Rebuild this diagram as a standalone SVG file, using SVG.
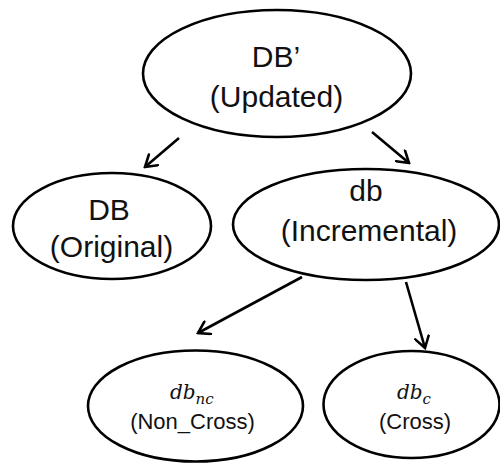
<svg xmlns="http://www.w3.org/2000/svg" width="500" height="463" viewBox="0 0 500 463">
<defs>
<marker id="arr" markerUnits="userSpaceOnUse" markerWidth="16" markerHeight="16" viewBox="-14 -8 16 16" refX="0" refY="0" orient="auto">
<path d="M-11,-7 L0,0 L-11,7" fill="none" stroke="#000" stroke-width="2.6" stroke-linecap="round" stroke-linejoin="miter"/>
</marker>
<style>
.node ellipse{fill:#fff;stroke:#000;stroke-width:2.6}
.lbl{font-family:"Liberation Sans",Arial,sans-serif;font-size:30px;fill:#111;text-anchor:middle}
.sm{font-family:"Liberation Sans",Arial,sans-serif;font-size:22px;fill:#111;text-anchor:middle}
.math{font-family:"DejaVu Serif","Liberation Serif",serif;font-style:italic;font-size:20px;fill:#111}
.edge{stroke:#000;stroke-width:2.6;fill:none;marker-end:url(#arr)}
</style>
</defs>
<rect width="500" height="463" fill="#fff"/>
<g id="connectors">
<line class="edge" x1="179" y1="138" x2="145" y2="167"/>
<line class="edge" x1="372" y1="132" x2="409" y2="163"/>
<line class="edge" x1="302" y1="277" x2="198" y2="333"/>
<line class="edge" x1="406" y1="282" x2="425" y2="348"/>
</g>
<g id="node-updated" class="node">
<ellipse cx="277" cy="73.5" rx="134" ry="63.5"/>
<text class="lbl" x="276" y="67">DB’</text>
<text class="lbl" x="276.5" y="107">(Updated)</text>
</g>
<g id="node-original" class="node">
<ellipse cx="112" cy="226" rx="99" ry="53"/>
<text class="lbl" x="109" y="220">DB</text>
<text class="lbl" x="111.5" y="257">(Original)</text>
</g>
<g id="node-incremental" class="node">
<ellipse cx="366" cy="224.5" rx="133" ry="55.5"/>
<text class="lbl" x="366" y="201">db</text>
<text class="lbl" x="369" y="241">(Incremental)</text>
</g>
<g id="node-noncross" class="node">
<ellipse cx="195.5" cy="406" rx="107.5" ry="55.5"/>
<text class="math" x="170" y="399">db<tspan font-size="15" dy="5">nc</tspan></text>
<text class="sm" x="192.5" y="429">(Non_Cross)</text>
</g>
<g id="node-cross" class="node">
<ellipse cx="411.5" cy="404.5" rx="88" ry="53.5"/>
<text class="math" x="397" y="399">db<tspan font-size="15" dy="5">c</tspan></text>
<text class="sm" x="415" y="429">(Cross)</text>
</g>
</svg>
